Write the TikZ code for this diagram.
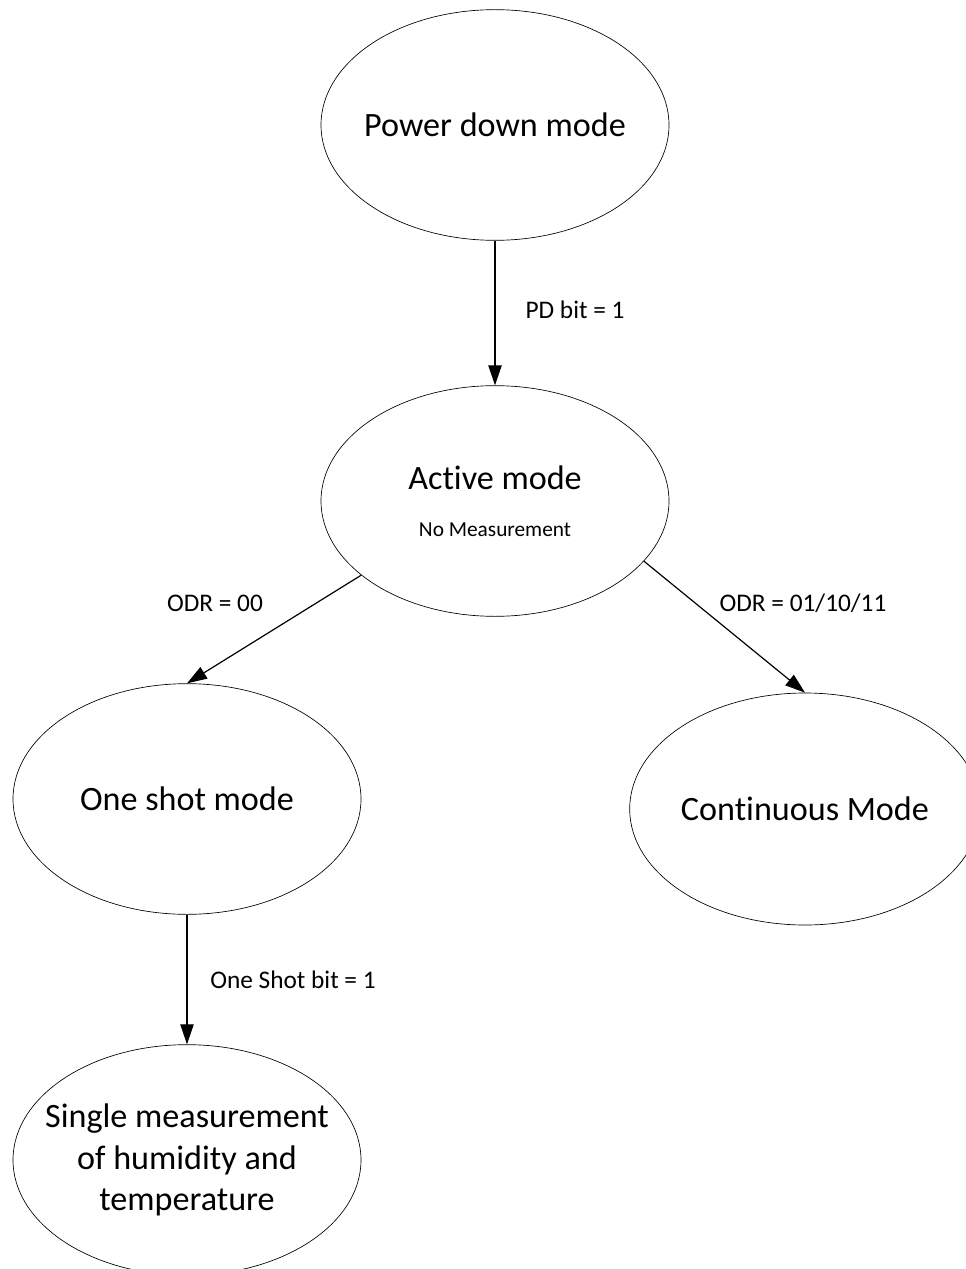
\documentclass[tikz,border=0pt]{standalone}
\usepackage{fontspec}
\setmainfont{Carlito}[Ligatures=NoCommon]
\usetikzlibrary{shapes.geometric,arrows.meta}

\begin{document}
\begin{tikzpicture}[x=0.75pt,y=-0.75pt,
		mode/.style={draw,ellipse,line width=0.5pt,inner xsep=-20pt,inner ysep=0pt,minimum width=261pt,minimum height=173pt,align=center,font=\fontsize{25.6}{31}\selectfont},
		lbl/.style={font=\fontsize{19}{23}\selectfont},
		trans/.style={line width=0.9pt,-{Triangle[length=15pt,width=10pt]}}]
				\useasboundingbox (0,0) rectangle (965,1269);
				
				\node[mode] (pdm) at (495,125) {Power down mode};
				\node[mode] (act) at (495,501) {Active mode\\[4pt]{\fontsize{16}{19}\selectfont No Measurement}};
				\node[mode] (one) at (187,799) {One shot mode};
				\node[mode,minimum width=263pt,minimum height=174pt] (cont) at (805,809) {Continuous Mode};
				\node[mode] (single) at (187,1160) {Single measurement\\of humidity and\\temperature};
				
				\draw[trans] (pdm) -- (act);
				\draw[trans] (act.209) -- (one.north);
				\draw[trans] (act.338) -- (cont.north);
				\draw[trans] (one) -- (single);
				
				\node[lbl] (lpd) at (575,310) {PD bit = 1};
				\node[lbl] (lodr0) at (215,603) {ODR = 00};
				\node[lbl] (lodr1) at (803,603) {ODR = 01/10/11};
				\node[lbl] (lshot) at (293,980) {One Shot bit = 1};
			\end{tikzpicture}
\end{document}
